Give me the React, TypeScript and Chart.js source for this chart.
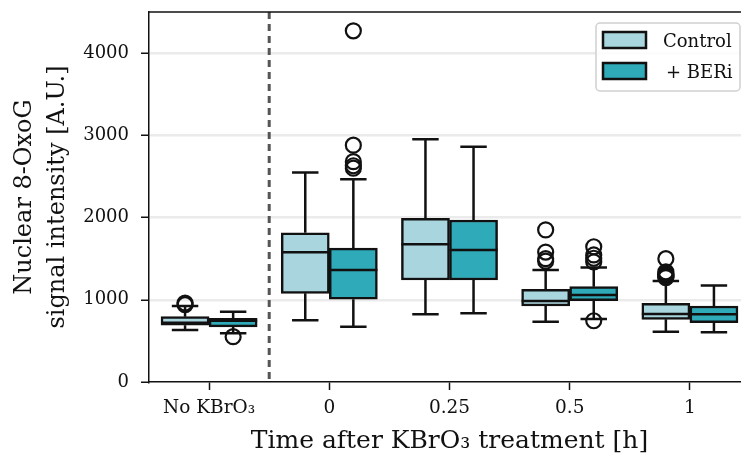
import React, { useEffect, useRef } from 'react';
import { Chart, registerables } from 'chart.js';

Chart.register(...registerables);

const categories = ['No KBrO₃', '0', '0.25', '0.5', '1'];
const seriesNames = ['Control', '+ BERi'];
const seriesColors = ['#a8d5de', '#2eaab8'];
const seriesOffsets = [-0.2, 0.2];
const yTicks = [0, 1000, 2000, 3000, 4000];

// Control
const controlLowWhisker = [632, 750, 823, 733, 612];
const controlQ1 = [690, 1078, 1240, 924, 762];
const controlMedian = [720, 1577, 1674, 985, 827];
const controlQ3 = [795, 1815, 1990, 1127, 957];
const controlHighWhisker = [924, 2549, 2951, 1362, 1228];
const controlOutliers = [
  [940, 960],
  [],
  [],
  [1850, 1580, 1500, 1470],
  [1500, 1340, 1320, 1300, 1290, 1280, 1270],
];

// + BERi
const beriLowWhisker = [592, 673, 835, 765, 604];
const beriQ1 = [670, 1006, 1240, 989, 721];
const beriMedian = [745, 1362, 1605, 1058, 823];
const beriQ3 = [775, 1629, 1970, 1159, 924];
const beriHighWhisker = [855, 2465, 2861, 1394, 1175];
const beriOutliers = [
  [551],
  [4271, 2880, 2680, 2630, 2600],
  [],
  [1645, 1545, 1505, 1460, 745],
  [],
];

const FONT = '"DejaVu Serif"';
const LW = 2.5;

const stats = [
  { lo: controlLowWhisker, q1: controlQ1, med: controlMedian, q3: controlQ3, hi: controlHighWhisker, out: controlOutliers },
  { lo: beriLowWhisker, q1: beriQ1, med: beriMedian, q3: beriQ3, hi: beriHighWhisker, out: beriOutliers },
];

const boxPlugin = {
  id: 'boxExtras',
  beforeDatasetsDraw(chart: any) {
    const { ctx } = chart;
    const y = chart.scales.y;
    ctx.save();
    ctx.strokeStyle = '#111';
    ctx.lineWidth = LW;
    for (let d = 0; d < 2; d++) {
      const meta = chart.getDatasetMeta(d);
      const s = stats[d];
      meta.data.forEach((el: any, j: number) => {
        const x = el.x;
        const capW = el.width * 0.55;
        const yLo = y.getPixelForValue(s.lo[j]);
        const yHi = y.getPixelForValue(s.hi[j]);
        const yQ1 = y.getPixelForValue(s.q1[j]);
        const yQ3 = y.getPixelForValue(s.q3[j]);
        ctx.beginPath();
        ctx.moveTo(x, yQ1);
        ctx.lineTo(x, yLo);
        ctx.moveTo(x - capW / 2, yLo);
        ctx.lineTo(x + capW / 2, yLo);
        ctx.moveTo(x, yQ3);
        ctx.lineTo(x, yHi);
        ctx.moveTo(x - capW / 2, yHi);
        ctx.lineTo(x + capW / 2, yHi);
        ctx.stroke();
      });
    }
    // dashed separator between "No KBrO3" and the time points
    const xs = chart.scales.x.getPixelForValue(0.5);
    ctx.strokeStyle = '#555';
    ctx.lineWidth = 3;
    ctx.setLineDash([7, 5]);
    ctx.beginPath();
    ctx.moveTo(xs, chart.chartArea.top);
    ctx.lineTo(xs, chart.chartArea.bottom);
    ctx.stroke();
    ctx.restore();
  },
  afterDatasetsDraw(chart: any) {
    const { ctx, chartArea } = chart;
    const y = chart.scales.y;
    ctx.save();
    ctx.strokeStyle = '#111';
    ctx.lineWidth = LW;
    for (let d = 0; d < 2; d++) {
      const meta = chart.getDatasetMeta(d);
      const s = stats[d];
      meta.data.forEach((el: any, j: number) => {
        const yM = y.getPixelForValue(s.med[j]);
        ctx.beginPath();
        ctx.moveTo(el.x - el.width / 2, yM);
        ctx.lineTo(el.x + el.width / 2, yM);
        ctx.stroke();
      });
    }
    // top spine
    ctx.lineWidth = 1.5;
    ctx.beginPath();
    ctx.moveTo(chartArea.left, chartArea.top);
    ctx.lineTo(chartArea.right, chartArea.top);
    ctx.stroke();
    ctx.restore();
  },
  afterDraw(chart: any) {
    const { ctx, chartArea } = chart;
    ctx.save();
    const lx = chartArea.right - 154;
    const ly = chartArea.top + 11;
    const lw = 144;
    const lh = 68;
    ctx.fillStyle = 'rgba(255,255,255,0.85)';
    ctx.strokeStyle = '#d0d0d0';
    ctx.lineWidth = 1.5;
    ctx.beginPath();
    (ctx as any).roundRect(lx, ly, lw, lh, 4);
    ctx.fill();
    ctx.stroke();
    ctx.font = `18px ${FONT}`;
    ctx.textBaseline = 'alphabetic';
    ctx.textAlign = 'left';
    for (let i = 0; i < 2; i++) {
      const sy = ly + 9 + i * 31;
      ctx.fillStyle = seriesColors[i];
      ctx.fillRect(lx + 7, sy, 43, 16);
      ctx.strokeStyle = '#111';
      ctx.lineWidth = LW;
      ctx.strokeRect(lx + 7, sy, 43, 16);
      ctx.fillStyle = '#111';
      ctx.fillText(seriesNames[i], lx + 67 + (i === 1 ? 3 : 0), sy + 15);
    }
    ctx.restore();
  },
};

function App() {
  const ref = useRef<HTMLCanvasElement>(null);
  useEffect(() => {
    document.body.style.margin = '0';
    const canvas = ref.current!;
    const boxDatasets = stats.map((s, d) => ({
      type: 'bar' as const,
      label: seriesNames[d],
      data: s.q1.map((v, j) => ({ x: j + seriesOffsets[d], y: [v, s.q3[j]] })),
      backgroundColor: seriesColors[d],
      borderColor: '#111',
      borderWidth: LW,
      borderSkipped: false,
      grouped: false,
      categoryPercentage: 1.0,
      barPercentage: 1.0,
      order: 2,
    }));
    const outlierDatasets = stats.map((s, d) => ({
      type: 'scatter' as const,
      label: seriesNames[d] + ' outliers',
      data: s.out.flatMap((vals, j) => vals.map((v) => ({ x: j + seriesOffsets[d], y: v }))),
      pointStyle: 'circle',
      pointRadius: 7.5,
      pointBorderWidth: 2.2,
      pointBackgroundColor: 'rgba(0,0,0,0)',
      pointBorderColor: '#111',
      showLine: false,
      order: 1,
    }));
    const chart = new Chart(canvas, {
      type: 'bar',
      data: {
        datasets: [...boxDatasets, ...outlierDatasets] as any,
      },
      plugins: [boxPlugin],
      options: {
        animation: false,
        responsive: false,
        devicePixelRatio: 1,
        layout: { padding: { top: 12, right: 20, left: 0, bottom: 0 } },
        plugins: {
          legend: { display: false },
          tooltip: { enabled: false },
        },
        scales: {
          x: {
            type: 'linear',
            offset: false,
            min: -0.5,
            max: 4.5,
            afterBuildTicks(scale: any) {
              scale.ticks = categories.map((_, i) => ({ value: i }));
            },
            grid: {
              display: true,
              offset: false,
              drawOnChartArea: false,
              tickColor: '#111',
              tickLength: 8,
              tickWidth: 1.5,
            },
            border: { display: true, color: '#111', width: 1.5 },
            ticks: {
              color: '#111',
              font: { family: FONT, size: 18.5 },
              padding: 7,
              maxRotation: 0,
              autoSkip: false,
              callback: (v: any) => categories[Math.round(v)] ?? '',
            },
            title: {
              display: true,
              text: 'Time after KBrO₃ treatment [h]',
              color: '#111',
              font: { family: FONT, size: 25, lineHeight: 1.35 },
              padding: { top: 0, bottom: 4 },
            },
            afterFit(scale: any) {
              scale.height = 80;
              scale.paddingLeft = 0;
              scale.paddingRight = 0;
            },
          },
          y: {
            type: 'linear',
            min: 0,
            max: 4500,
            afterBuildTicks(scale: any) {
              scale.ticks = yTicks.map((v) => ({ value: v }));
            },
            grid: {
              color: (c: any) => (c.tick && c.tick.value === 0 ? 'rgba(0,0,0,0)' : '#ebebeb'),
              lineWidth: 2.5,
              tickColor: '#111',
              tickLength: 8,
              tickWidth: 1.5,
            },
            border: { display: true, color: '#111', width: 1.5 },
            ticks: {
              color: '#111',
              font: { family: FONT, size: 18 },
              padding: 12,
              autoSkip: false,
              callback: (v: any) => String(v),
            },
            title: {
              display: true,
              text: ['Nuclear 8-OxoG', 'signal intensity [A.U.]'],
              color: '#111',
              font: { family: FONT, size: 24, lineHeight: 1.375 },
              padding: { top: 8, bottom: 0 },
            },
            afterFit(scale: any) {
              scale.width = 149;
              scale.paddingTop = 0;
              scale.paddingBottom = 0;
            },
          },
        },
      },
    });
    return () => chart.destroy();
  }, []);
  return (
    <div style={{ width: 741, height: 462, overflow: 'hidden', background: '#fff' }}>
      <canvas ref={ref} width={770} height={462} style={{ display: 'block', width: 770, height: 462 }} />
    </div>
  );
}

export default App;
